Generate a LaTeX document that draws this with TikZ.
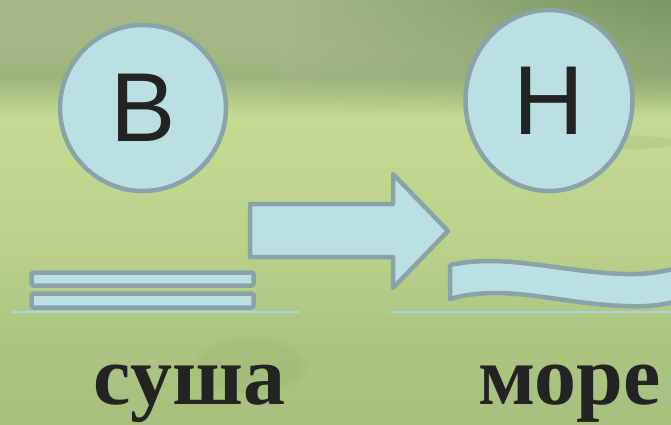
\documentclass[tikz,border=0pt]{standalone}
\usepackage{fontspec}
\setmainfont{Liberation Serif}
\newfontfamily\lettersans{Liberation Sans}
\usepackage{xcolor}
\usetikzlibrary{shapes.geometric, fadings}

\definecolor{bubblefill}{HTML}{BBE0E4}
\definecolor{bubbleline}{HTML}{88A4A8}
\definecolor{groundline}{HTML}{A8D6DE}
\definecolor{inkdark}{HTML}{232323}
\definecolor{skyhaze}{HTML}{A6B985}
\definecolor{skylow}{HTML}{9CB37C}
\definecolor{horizon}{HTML}{C3DA92}
\definecolor{fieldmid}{HTML}{B9D189}
\definecolor{fieldlow}{HTML}{A6C07E}
\definecolor{grassdark}{HTML}{6F9058}

%% field photo, stops between 25bp (bottom) and 75bp (top)
\pgfdeclareverticalshading{field}{100bp}{%
  color(0bp)=(fieldlow); color(25bp)=(fieldlow); color(35bp)=(fieldlow!70!fieldmid);
  color(46bp)=(fieldmid); color(57bp)=(horizon!85!fieldmid); color(61.5bp)=(horizon);
  color(66bp)=(skylow); color(69bp)=(skyhaze!80!skylow); color(75bp)=(skyhaze);
  color(100bp)=(skyhaze)}
\tikzfading[name=fadedown, top color=transparent!0, bottom color=transparent!100]

\tikzset{
  bubble/.style = {ellipse, draw=bubbleline, fill=bubblefill, line width=4.5pt,
                   inner sep=0pt, text=inkdark,
                   font=\lettersans\fontsize{98}{98}\selectfont},
  plate/.style  = {draw=bubbleline, fill=bubblefill, line width=4.5pt,
                   line join=round, rounded corners=1.5pt},
  wind/.style   = {draw=bubbleline, fill=bubblefill, line width=4.5pt, line join=round},
  ground/.style = {draw=groundline, line width=1.6pt},
  word/.style   = {anchor=base, inner sep=0pt, text=inkdark,
                   font=\bfseries\fontsize{84}{84}\selectfont},
}

\begin{document}
\begin{tikzpicture}[x=1pt, y=-1pt]

    \useasboundingbox (0,0) rectangle (671,425);
    \clip (0,0) rectangle (671,425);

    %% Background: grass field
    \shade[shading=field] (0,0) rectangle (671,425);
    \shade[left color=skyhaze, right color=grassdark!80!skylow, path fading=fadedown]
      (280,0) rectangle (671,115);
    \fill[grassdark, opacity=0.15, path fading=circle with fuzzy edge 20 percent]
      (610,142) ellipse (80 and 8);
    \fill[grassdark, opacity=0.1, path fading=circle with fuzzy edge 20 percent]
      (250,365) ellipse (60 and 30);

    %% Pressure bubbles
    \node[bubble, minimum width=166, minimum height=166] (high) at (143,108) {В};
    \node[bubble, minimum width=167, minimum height=181] (low)  at (549,100.5) {Н};

    %% Land: two slabs
    \draw[plate] (31.5,272.5) rectangle (253.5,285.5);
    \draw[plate] (31.5,293.5) rectangle (253.5,307.5);

    %% Wind arrow land -> sea
    \draw[wind] (250,204) -- (393,204) -- (393,174) -- (448,231)
                -- (393,288) -- (393,257) -- (250,257) -- cycle;

    %% Sea: wave band
    \draw[wind] (450,265) .. controls (505,253) and (560,272) .. (625,274)
                .. controls (660,275) and (685,266) .. (705,260) -- (705,292)
                .. controls (685,300) and (660,308) .. (625,306)
                .. controls (560,304) and (505,283) .. (450,299) -- cycle;

    %% Ground lines
    \draw[ground] (12,312) -- (299,312);
    \draw[ground] (390,312) -- (671,312);

    %% Captions
    \node[word] (land) at (189.5,404) {суша};
    \node[word] (sea)  at (569.5,404) {море};

  \end{tikzpicture}
\end{document}
